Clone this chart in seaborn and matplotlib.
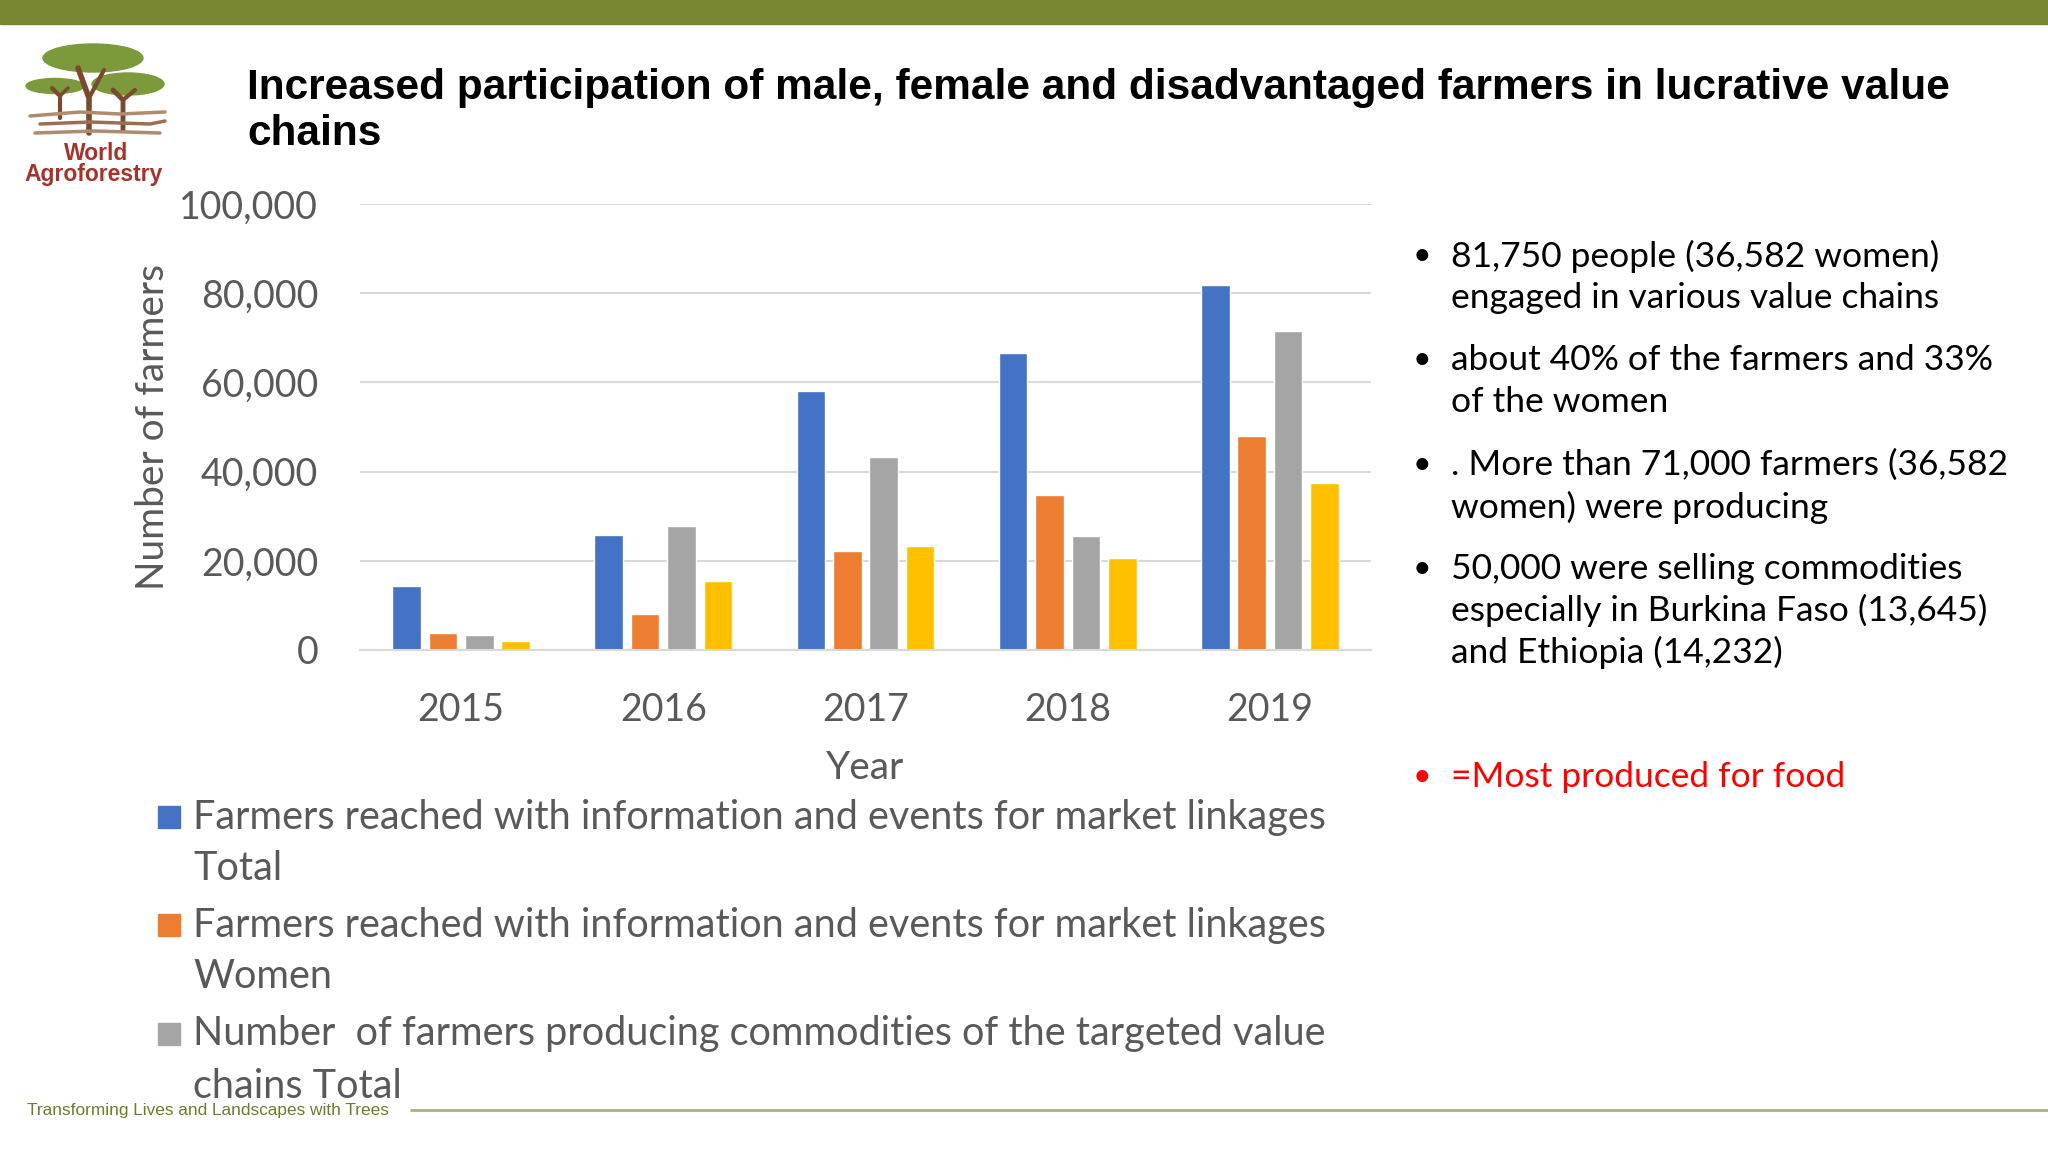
import matplotlib
matplotlib.use("Agg")
import matplotlib.pyplot as plt
from matplotlib.patches import Rectangle, Ellipse
from matplotlib.ticker import FuncFormatter
import seaborn as sns
import pandas as pd

# ---- data ----
years = ["2015", "2016", "2017", "2018", "2019"]
series_names = [
    "Farmers reached with information and events for market linkages Total",
    "Farmers reached with information and events for market linkages Women",
    "Number  of farmers producing commodities of the targeted value chains Total",
    "Number of farmers selling commodities of the targeted value chains Total",
]
reached_total = [14300, 25700, 58100, 66600, 81750]
reached_women = [3700, 8000, 22100, 34700, 47900]
producing_total = [3350, 27800, 43300, 25600, 71600]
selling_total = [1950, 15400, 23300, 20600, 37400]
series_colors = ["#4472C4", "#ED7D31", "#A5A5A5", "#FFC000"]

# the slide cuts the legend after the third entry
legend_lines = [
    ["Farmers reached with information and events for market linkages", "Total"],
    ["Farmers reached with information and events for market linkages", "Women"],
    ["Number  of farmers producing commodities of the targeted value", "chains Total"],
]

title_lines = [
    "Increased participation of male, female and disadvantaged farmers in lucrative value",
    "chains",
]
bullets = [
    ["81,750 people (36,582 women)", "engaged in various value chains"],
    ["about 40% of the farmers and 33%", "of the women"],
    [". More than 71,000 farmers (36,582", "women) were producing"],
    ["50,000 were selling commodities", "especially in Burkina Faso (13,645)", "and Ethiopia (14,232)"],
]
red_note = "=Most produced for food"
footer = "Transforming Lives and Landscapes with Trees"

df = pd.DataFrame({
    "Year": years * 4,
    "Series": sum([[s] * len(years) for s in series_names], []),
    "Farmers": reached_total + reached_women + producing_total + selling_total,
})

sns.set_style("white")
plt.rcParams["font.family"] = ["Lato", "DejaVu Sans"]
grey_txt = "#595959"
arial = ["Liberation Sans", "DejaVu Sans"]

fig = plt.figure(figsize=(20.48, 11.52), dpi=100)

# background layer in pixel coords (y down)
bg = fig.add_axes([0, 0, 1, 1], zorder=0)
bg.set_xlim(0, 2048)
bg.set_ylim(1152, 0)
bg.axis("off")

bg.add_patch(Rectangle((0, 0), 2048, 24, color="#788632"))

# logo (rough)
green = "#7c9a3b"
brown = "#7b4a2e"
bg.add_patch(Ellipse((93, 58), 100, 28, color=green))
bg.add_patch(Ellipse((55, 86), 58, 15, color=green))
bg.add_patch(Ellipse((128, 84), 72, 22, color=green))
bg.plot([89, 89, 78], [133, 98, 68], color=brown, lw=4, solid_capstyle="round")
bg.plot([89, 104], [98, 70], color=brown, lw=3, solid_capstyle="round")
bg.plot([60, 60, 52], [118, 96, 88], color=brown, lw=3)
bg.plot([60, 68], [96, 88], color=brown, lw=2.5)
bg.plot([123, 123, 113], [130, 100, 90], color=brown, lw=3.5)
bg.plot([123, 135], [100, 90], color=brown, lw=3)
bg.plot([30, 80, 120, 165], [116, 112, 114, 112], color="#b08b6e", lw=2.5)
bg.plot([40, 90, 150, 165], [124, 122, 124, 121], color="#9c6f55", lw=2.5)
bg.plot([35, 95, 160], [133, 131, 133], color="#b08b6e", lw=2.5)
bg.text(96, 153, "World", ha="center", va="center", fontsize=16.5, fontweight="bold",
        color="#a6322b", family=arial)
bg.text(94, 174, "Agroforestry", ha="center", va="center", fontsize=16.5, fontweight="bold",
        color="#a6322b", family=arial)

# title
for i, line in enumerate(title_lines):
    bg.text(247, 88 + 46 * i, line, ha="left", va="center", fontsize=30.5,
            fontweight="bold", color="black", family=arial)

# right side bullets
bullet_y = [[256, 298], [360, 402], [465, 507], [569, 610, 652]]
for lines, ys in zip(bullets, bullet_y):
    bg.text(1413, ys[0], "•", ha="left", va="center", fontsize=23, color="black")
    for line, y in zip(lines, ys):
        bg.text(1451, y, line, ha="left", va="center", fontsize=25.5, color="black")
bg.text(1413, 777, "•", ha="left", va="center", fontsize=23, color="#ff0000")
bg.text(1451, 777, red_note, ha="left", va="center", fontsize=25.5, color="#ff0000")

# legend (manual, first line aligned with the square)
legend_y = [[817, 869], [925, 977], [1034, 1086]]
for color, lines, ys in zip(series_colors, legend_lines, legend_y):
    bg.add_patch(Rectangle((158, ys[0] - 11), 22, 22, color=color))
    for line, y in zip(lines, ys):
        bg.text(193, y, line, ha="left", va="center", fontsize=28.5, color=grey_txt)

# footer
bg.text(27, 1110, footer, ha="left", va="center", fontsize=12.4, color="#6b7d2b", family=arial)
bg.plot([411, 2048], [1110, 1110], color="#a9ae86", lw=2)

# ---- chart ----
ax = fig.add_axes([360 / 2048, 1 - 650 / 1152, (1371 - 360) / 2048, (650 - 204) / 1152], zorder=1)
ax.set_facecolor("none")
sns.barplot(data=df, x="Year", y="Farmers", hue="Series", hue_order=series_names,
            palette=series_colors, saturation=1, width=0.72, gap=0.21,
            errorbar=None, legend=False, ax=ax)

ax.set_ylim(0, 100000)
ax.set_yticks(range(0, 100001, 20000))
ax.yaxis.set_major_formatter(FuncFormatter(lambda v, p: f"{int(v):,}"))
ax.yaxis.grid(True, color="#d9d9d9", lw=1.5)
ax.set_axisbelow(True)
for side in ["top", "right", "left"]:
    ax.spines[side].set_visible(False)
ax.spines["bottom"].set_color("#d9d9d9")
ax.spines["bottom"].set_linewidth(1.5)
ax.tick_params(axis="both", length=0, labelsize=27, labelcolor=grey_txt)
ax.tick_params(axis="y", pad=30)
ax.tick_params(axis="x", pad=30)
ax.set_xlabel("Year", fontsize=28, color=grey_txt, labelpad=16)
ax.set_ylabel("Number of farmers", fontsize=28, color=grey_txt, labelpad=6)

fig.savefig("out.png", dpi=100, facecolor="white")
